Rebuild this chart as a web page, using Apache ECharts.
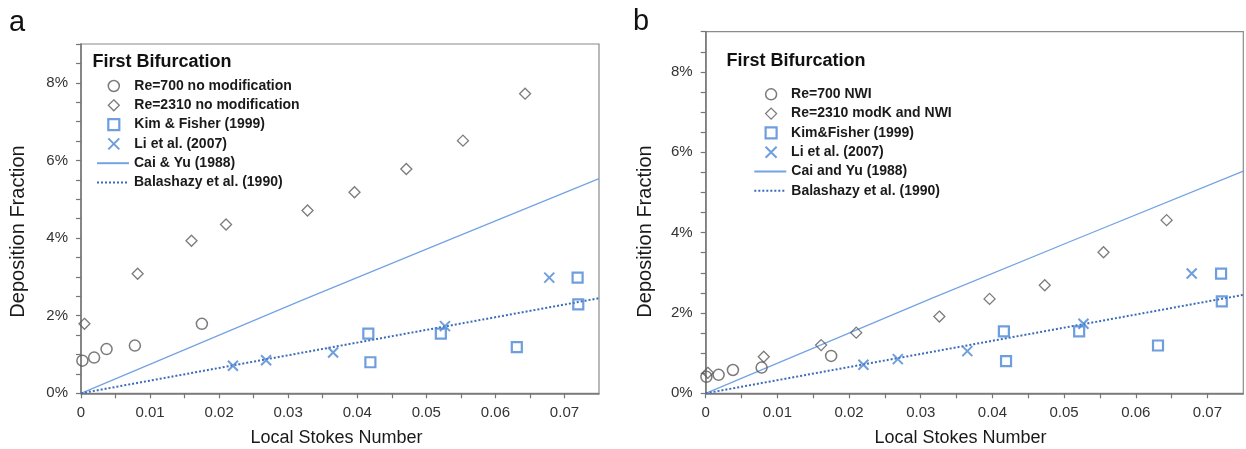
<!DOCTYPE html>
<html>
<head>
<meta charset="utf-8">
<script src="https://cdn.jsdelivr.net/npm/echarts@6/dist/echarts.min.js"></script>
<style>html,body{margin:0;padding:0;background:#fff}#c{width:1246px;height:449px}</style>
</head>
<body>
<div id="c"></div>
<script>
// ---- Data (x: local Stokes number, y: deposition fraction) ----
const xTicksLabelled = [0, 0.01, 0.02, 0.03, 0.04, 0.05, 0.06, 0.07];
const yTicksLabelled = ['0%', '2%', '4%', '6%', '8%'];

// Panel a
const re700A = [[0.0002, 0.0084], [0.0019, 0.0092], [0.0037, 0.0114], [0.0078, 0.0123], [0.0175, 0.0179]];
const re2310A = [[0.0005, 0.0179], [0.0082, 0.0308], [0.0160, 0.0393], [0.0210, 0.0435], [0.0328, 0.0471],
                 [0.0396, 0.0518], [0.0471, 0.0578], [0.0553, 0.0651], [0.0643, 0.0772]];
// Panel b
const re700B = [[0.0001, 0.0041], [0.0018, 0.0046], [0.0038, 0.0058], [0.0078, 0.0064], [0.0175, 0.0093]];
const re2310B = [[0.0003, 0.0051], [0.0081, 0.0091], [0.0161, 0.0120], [0.0210, 0.0151], [0.0326, 0.0191],
                 [0.0396, 0.0235], [0.0473, 0.0269], [0.0555, 0.0351], [0.0643, 0.0431]];
// Shared reference data
const kimFisher = [[0.0416, 0.0154], [0.0419, 0.0080], [0.0521, 0.0154], [0.0631, 0.0119], [0.0719, 0.0298], [0.0720, 0.0229]];
const liEtAl = [[0.0220, 0.0071], [0.0268, 0.0085], [0.0365, 0.0105], [0.0527, 0.0173], [0.0678, 0.0298]];
const caiYu = [[0, 0], [0.0316, 0.0237], [0.0524, 0.0389], [0.075, 0.0553]];
const balashazy = [[0, 0], [0.075, 0.0245]];

const namesA = ['Re=700 no modification', 'Re=2310 no modification', 'Kim & Fisher (1999)', 'Li et al. (2007)', 'Cai & Yu (1988)', 'Balashazy et al. (1990)'];
const namesB = ['Re=700 NWI', 'Re=2310 modK and NWI', 'Kim&Fisher (1999)', 'Li et al. (2007)', 'Cai and Yu (1988)', 'Balashazy et al. (1990)'];

// ---- Styles ----
const FONT = '"Liberation Sans", Arial, sans-serif';
const GRAY = '#5a5a5a';
const BLUE = '#4a86d6';
const BLUE_LINE = '#74a3e4';
const BLUE_DOT = '#3b6cb8';
const AXIS = '#767676';
const CROSS = 'path://M0,0L10,10M10,0L0,10';

const styles = [
  {type: 'scatter', symbol: 'circle', symbolSize: 11, itemStyle: {color: 'rgba(0,0,0,0)', borderColor: GRAY, borderWidth: 1.5}},
  {type: 'scatter', symbol: 'diamond', symbolSize: 11, itemStyle: {color: 'rgba(0,0,0,0)', borderColor: GRAY, borderWidth: 1.3}},
  {type: 'scatter', symbol: 'rect', symbolSize: 10, itemStyle: {color: 'rgba(0,0,0,0)', borderColor: BLUE, borderWidth: 2.2}},
  {type: 'scatter', symbol: CROSS, symbolSize: 10, itemStyle: {color: 'rgba(0,0,0,0)', borderColor: BLUE, borderWidth: 2}},
  {type: 'line', symbol: 'none', lineStyle: {color: BLUE_LINE, width: 1.3}, itemStyle: {color: BLUE_LINE}},
  {type: 'line', symbol: 'none', lineStyle: {color: BLUE_DOT, width: 2, type: [2, 2]}, itemStyle: {color: BLUE_DOT}}
];

function mkSeries(names, datas, idx) {
  return names.map((n, i) => Object.assign({}, JSON.parse(JSON.stringify(styles[i])), {
    name: n, data: datas[i], xAxisIndex: idx, yAxisIndex: idx,
    z: styles[i].type === 'line' ? 2 : 5, animation: false, silent: true,
    symbol: styles[i].symbol
  }));
}

function markerLegendData(names) {
  return names.slice(0, 4).map((n, i) => {
    const s = styles[i];
    return {name: n, icon: s.symbol, itemStyle: {color: 'rgba(0,0,0,0)', borderColor: s.itemStyle.borderColor, borderWidth: s.itemStyle.borderWidth}};
  });
}
function lineLegendData(names) {
  return names.slice(4).map(n => ({name: n, itemStyle: {color: 'rgba(0,0,0,0)', opacity: 0, borderWidth: 0}}));
}

function xAxis(idx) {
  return {
    gridIndex: idx, type: 'value', min: 0, max: 0.075, interval: 0.005,
    axisLine: {show: true, lineStyle: {color: AXIS, width: 1.5}},
    axisTick: {show: true, inside: false, length: 5, lineStyle: {color: AXIS, width: 1.2}},
    splitLine: {show: false},
    axisLabel: {
      color: '#333', fontSize: 15, fontFamily: FONT, margin: 12,
      showMaxLabel: false,
      formatter: v => { const k = Math.round(v * 1000); if (k % 10 !== 0) return ''; const t = xTicksLabelled.find(x => Math.abs(x - v) < 1e-9); return t === undefined ? '' : String(t); }
    }
  };
}
function yAxis(idx) {
  return {
    gridIndex: idx, type: 'value', min: 0, max: 0.09, interval: 0.005,
    axisLine: {show: true, lineStyle: {color: AXIS, width: 1.5}},
    axisTick: {show: true, inside: false, length: 5, lineStyle: {color: AXIS, width: 1.2}},
    splitLine: {show: false},
    axisLabel: {
      color: '#333', fontSize: 15, fontFamily: FONT, margin: 13,
      formatter: v => { const k = Math.round(v * 1000); if (k % 20 !== 0) return ''; return yTicksLabelled[k / 20] || ''; }
    }
  };
}

const legendText = {fontFamily: FONT, fontSize: 14, fontWeight: 'bold', color: '#1a1a1a', lineHeight: 14};
const legendCommon = {orient: 'vertical', padding: 0, itemHeight: 11, itemGap: 5.3, selectedMode: false};
const ROW = 19.3;

const chart = echarts.init(document.getElementById('c'), null, {renderer: 'canvas'});
chart.setOption({
  animation: false,
  backgroundColor: '#fff',
  textStyle: {fontFamily: FONT},
  grid: [
    {left: 81, top: 44, width: 518, height: 349.3, show: true, borderColor: '#8a8a8a', borderWidth: 1.2, backgroundColor: 'transparent'},
    {left: 705.7, top: 31.7, width: 537.6, height: 361.6, show: true, borderColor: '#8a8a8a', borderWidth: 1.2, backgroundColor: 'transparent'}
  ],
  xAxis: [xAxis(0), xAxis(1)],
  yAxis: [yAxis(0), yAxis(1)],
  legend: [
    Object.assign({}, legendCommon, {left: 107.2, top: 79, itemWidth: 11, textStyle: Object.assign({padding: [0, 0, 0, 10]}, legendText), data: markerLegendData(namesA)}),
    Object.assign({}, legendCommon, {left: 96, top: 79 + 4 * ROW, itemWidth: 32, textStyle: legendText, data: lineLegendData(namesA)}),
    Object.assign({}, legendCommon, {left: 764.5, top: 87.3, itemWidth: 11, textStyle: Object.assign({padding: [0, 0, 0, 9.5]}, legendText), data: markerLegendData(namesB)}),
    Object.assign({}, legendCommon, {left: 753.3, top: 87.3 + 4 * ROW, itemWidth: 32, textStyle: legendText, data: lineLegendData(namesB)})
  ],
  title: [
    {text: 'a', left: 9, top: 8, padding: 0, textStyle: {fontFamily: FONT, fontSize: 29, fontWeight: 'normal', color: '#111'}},
    {text: 'b', left: 633, top: 7, padding: 0, textStyle: {fontFamily: FONT, fontSize: 29, fontWeight: 'normal', color: '#111'}},
    {text: 'First Bifurcation', left: 92.5, top: 53.5, padding: 0, textStyle: {fontFamily: FONT, fontSize: 18, fontWeight: 'bold', color: '#111'}},
    {text: 'First Bifurcation', left: 726.5, top: 52.5, padding: 0, textStyle: {fontFamily: FONT, fontSize: 18, fontWeight: 'bold', color: '#111'}}
  ],
  graphic: [
    {type: 'text', x: 18, y: 231.5, rotation: Math.PI / 2, style: {text: 'Deposition Fraction', font: '20px ' + FONT, fill: '#1a1a1a', align: 'center', verticalAlign: 'middle'}},
    {type: 'text', x: 645, y: 231.5, rotation: Math.PI / 2, style: {text: 'Deposition Fraction', font: '20px ' + FONT, fill: '#1a1a1a', align: 'center', verticalAlign: 'middle'}},
    {type: 'text', x: 336.5, y: 438, style: {text: 'Local Stokes Number', font: '18px ' + FONT, fill: '#1a1a1a', align: 'center', verticalAlign: 'middle'}},
    {type: 'text', x: 960.5, y: 438, style: {text: 'Local Stokes Number', font: '18px ' + FONT, fill: '#1a1a1a', align: 'center', verticalAlign: 'middle'}}
  ],
  series: [].concat(
    mkSeries(namesA, [re700A, re2310A, kimFisher, liEtAl, caiYu, balashazy], 0),
    mkSeries(namesB, [re700B, re2310B, kimFisher, liEtAl, caiYu, balashazy], 1)
  )
});
</script>
</body>
</html>
